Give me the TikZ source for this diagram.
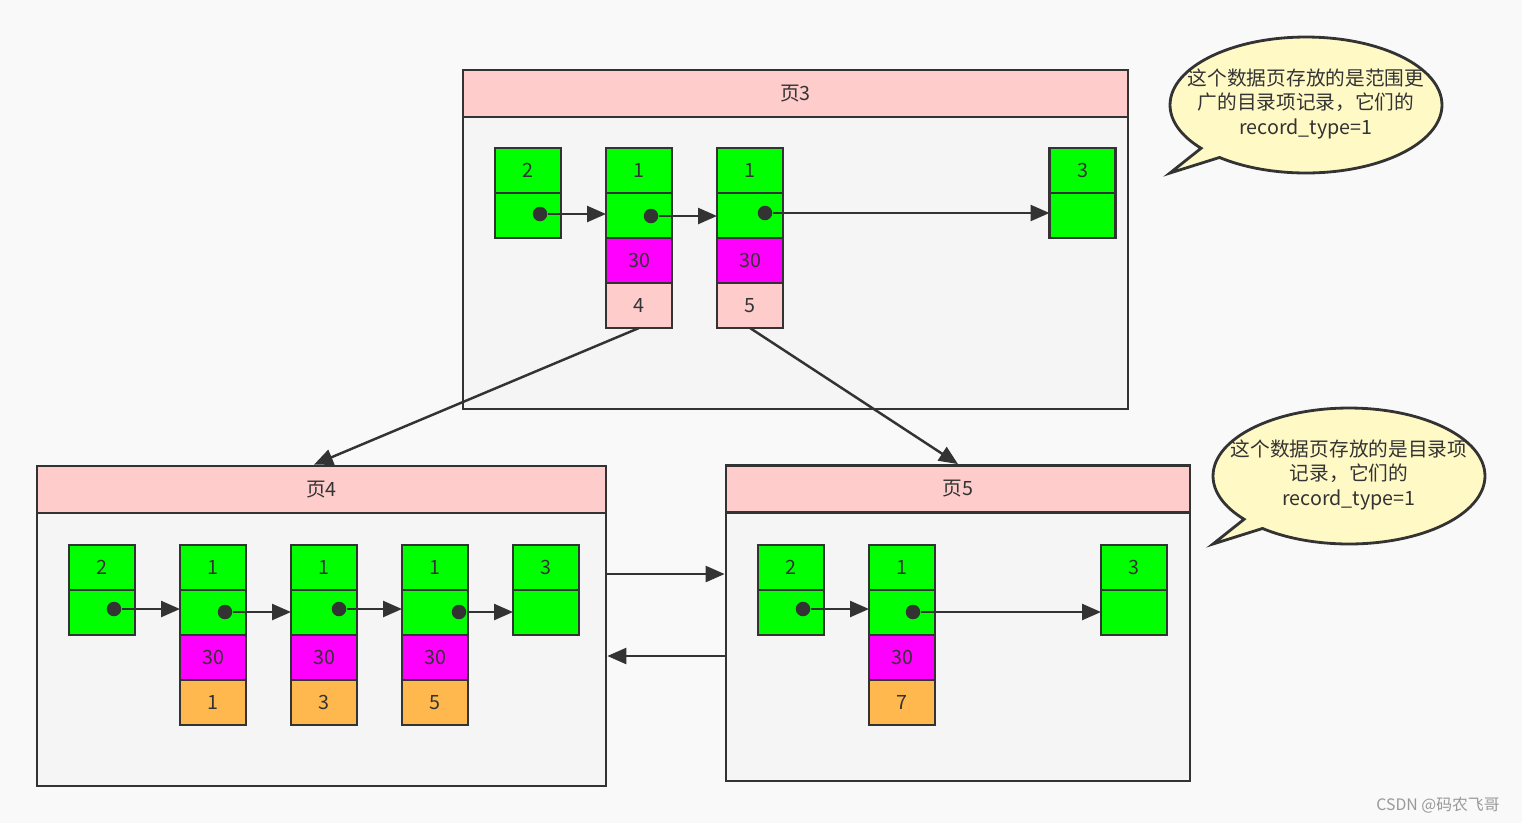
\documentclass[tikz,border=0pt]{standalone}
\usepackage{fontspec}
\setmainfont{Noto Sans CJK SC}
\usetikzlibrary{arrows.meta,shapes.callouts}
\definecolor{ink}{HTML}{333333}
\definecolor{bg}{HTML}{F9F9F9}
\definecolor{pagefill}{HTML}{F5F5F5}
\definecolor{headfill}{HTML}{FFCCCC}
\definecolor{grn}{HTML}{00FF00}
\definecolor{mag}{HTML}{FF00FF}
\definecolor{pnk}{HTML}{FFCCCC}
\definecolor{org}{HTML}{FFB84D}
\definecolor{note}{HTML}{FFF9C6}

\begin{document}
\begin{tikzpicture}[x=0.02cm,y=-0.02cm]
	\tikzstyle{every node}=[font=\fontsize{11.2}{14}\selectfont, text=ink]
	\tikzstyle{pagebody}=[draw=ink, fill=pagefill, line width=1.6pt, inner sep=0pt]
	\tikzstyle{pagehead}=[draw=ink, fill=headfill, line width=1.6pt, inner sep=0pt, minimum height=0.94cm]
	\tikzstyle{cell}=[draw=ink, line width=1.6pt, minimum width=1.32cm, minimum height=0.9cm, inner sep=0pt, outer sep=0pt]
	\tikzstyle{dot}=[circle, fill=ink, minimum size=0.29cm, inner sep=0pt]
	\tikzstyle{arr}=[draw=ink, line width=1.4pt, -{Triangle[length=0.38cm,width=0.32cm]}]
	\tikzstyle{note}=[ellipse callout, draw=ink, fill=note, line width=1.6pt, callout pointer arc=11, minimum width=5.44cm, minimum height=2.72cm, inner sep=0pt]

	\useasboundingbox[fill=bg] (0,0) rectangle (1522,823);

	% pages
	\node[pagebody, minimum width=13.3cm, minimum height=5.84cm] (page3) at (795.5,263) {};
	\node[pagehead, minimum width=13.3cm] (head3) at (795.5,93.5) {页3};
	\node[pagebody, minimum width=11.38cm, minimum height=5.46cm] (page4) at (321.5,649.5) {};
	\node[pagehead, minimum width=11.38cm] (head4) at (321.5,489.5) {页4};
	\node[pagebody, minimum width=9.28cm, minimum height=5.38cm] (page5) at (958,646.5) {};
	\node[pagehead, minimum width=9.28cm] (head5) at (958,489) {页5};

	% records of page 3
	\node[cell, fill=grn] (a1) at (528,170.5) {2};
	\node[cell, fill=grn] (a2) at (528,215.5) {};
	\node[cell, fill=grn] (b1) at (639,170.5) {1};
	\node[cell, fill=grn] (b2) at (639,215.5) {};
	\node[cell, fill=mag] (b3) at (639,260.5) {30};
	\node[cell, fill=pnk] (b4) at (639,305.5) {4};
	\node[cell, fill=grn] (c1) at (750,170.5) {1};
	\node[cell, fill=grn] (c2) at (750,215.5) {};
	\node[cell, fill=mag] (c3) at (750,260.5) {30};
	\node[cell, fill=pnk] (c4) at (750,305.5) {5};
	\node[cell, fill=grn] (d1) at (1082.5,170.5) {3};
	\node[cell, fill=grn] (d2) at (1082.5,215.5) {};

	% records of page 4
	\node[cell, fill=grn] (e1) at (102,567.5) {2};
	\node[cell, fill=grn] (e2) at (102,612.5) {};
	\node[cell, fill=grn] (f1) at (213,567.5) {1};
	\node[cell, fill=grn] (f2) at (213,612.5) {};
	\node[cell, fill=mag] (f3) at (213,657.5) {30};
	\node[cell, fill=org] (f4) at (213,702.5) {1};
	\node[cell, fill=grn] (g1) at (324,567.5) {1};
	\node[cell, fill=grn] (g2) at (324,612.5) {};
	\node[cell, fill=mag] (g3) at (324,657.5) {30};
	\node[cell, fill=org] (g4) at (324,702.5) {3};
	\node[cell, fill=grn] (h1) at (435,567.5) {1};
	\node[cell, fill=grn] (h2) at (435,612.5) {};
	\node[cell, fill=mag] (h3) at (435,657.5) {30};
	\node[cell, fill=org] (h4) at (435,702.5) {5};
	\node[cell, fill=grn] (i1) at (546,567.5) {3};
	\node[cell, fill=grn] (i2) at (546,612.5) {};

	% records of page 5
	\node[cell, fill=grn] (j1) at (791,567.5) {2};
	\node[cell, fill=grn] (j2) at (791,612.5) {};
	\node[cell, fill=grn] (k1) at (902,567.5) {1};
	\node[cell, fill=grn] (k2) at (902,612.5) {};
	\node[cell, fill=mag] (k3) at (902,657.5) {30};
	\node[cell, fill=org] (k4) at (902,702.5) {7};
	\node[cell, fill=grn] (l1) at (1134,567.5) {3};
	\node[cell, fill=grn] (l2) at (1134,612.5) {};

	% next_record pointers
	\node[dot] (pa) at (540,214) {};
	\node[dot] (pb) at (651,216) {};
	\node[dot] (pc) at (765,213) {};
	\draw[arr] (pa) -- (pa -| b2.west);
	\draw[arr] (pb) -- (pb -| c2.west);
	\draw[arr] (pc) -- (pc -| d2.west);

	\node[dot] (pe) at (114,609) {};
	\node[dot] (pf) at (225,612) {};
	\node[dot] (pg) at (339,609) {};
	\node[dot] (ph) at (459,612) {};
	\draw[arr] (pe) -- (pe -| f2.west);
	\draw[arr] (pf) -- (pf -| g2.west);
	\draw[arr] (pg) -- (pg -| h2.west);
	\draw[arr] (ph) -- (ph -| i2.west);

	\node[dot] (pj) at (803,609) {};
	\node[dot] (pk) at (913,612) {};
	\draw[arr] (pj) -- (pj -| k2.west);
	\draw[arr] (pk) -- (pk -| l2.west);

	% page links
	\draw[arr] (b4.south) -- ([xshift=-0.15cm]head4.north);
	\draw[arr] (c4.south) -- (head5.north);
	\coordinate (nx) at ([yshift=1.51cm]page4.east);
	\coordinate (pv) at ([yshift=-0.19cm]page5.west);
	\draw[arr] (nx) -- (nx -| page5.west);
	\draw[arr] (pv) -- (pv -| page4.east);

	% notes
	\node[note, callout absolute pointer={(1170,173)}] (noteA) at (1306,105)
		{\makebox[3cm]{\begin{tabular}{@{}c@{}}这个数据页存放的是范围更\\广的目录项记录，它们的\\record\_type=1\end{tabular}}};
	\node[note, callout absolute pointer={(1213,544)}] (noteB) at (1349,476)
		{\makebox[3cm]{\begin{tabular}{@{}c@{}}这个数据页存放的是目录项\\记录，它们的\\record\_type=1\end{tabular}}};

	\node[text=black!40, font=\fontsize{9}{10}\selectfont] (mark) at (1438,805) {CSDN @码农飞哥};
\end{tikzpicture}
\end{document}
